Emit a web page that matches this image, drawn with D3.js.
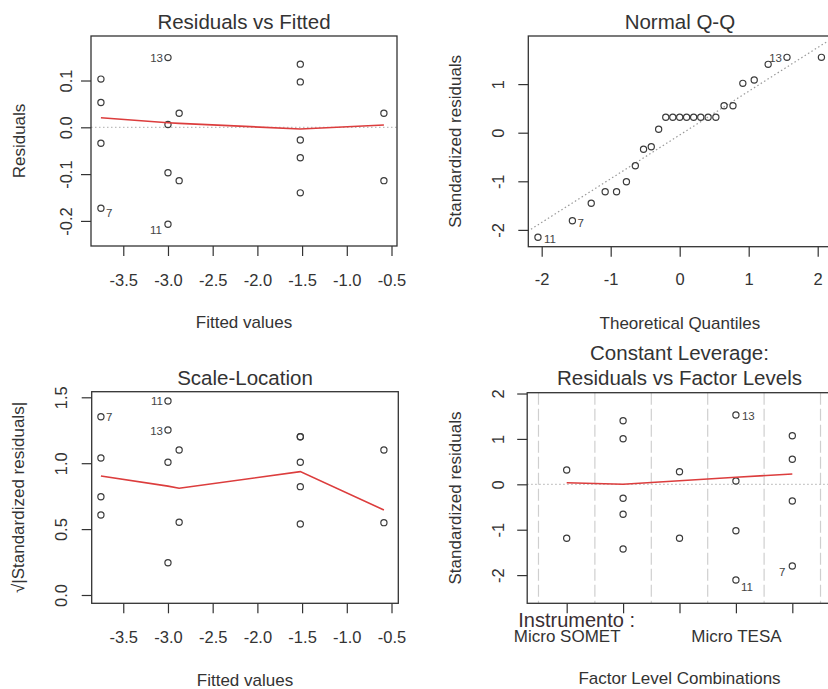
<!DOCTYPE html>
<html><head><meta charset="utf-8">
<script src="https://cdn.jsdelivr.net/npm/d3@7"></script>
<style>
body{margin:0;background:#fff}
svg{display:block;font-family:"Liberation Sans",Arial,sans-serif}
</style>
</head><body>
<svg id="c" width="828" height="689"></svg>
<script>
// ---------- DATA ----------
// Panel 1: Residuals vs Fitted
const fitted = [-3.75,-3.75,-3.75,-3.75,-3.0,-3.0,-3.0,-3.0,-2.875,-2.875,-1.52,-1.52,-1.52,-1.52,-1.52,-0.585,-0.585];
const residuals = [0.103,0.053,-0.034,-0.173,0.149,0.006,-0.097,-0.207,0.030,-0.114,0.135,0.097,-0.027,-0.065,-0.140,0.030,-0.114];
const residIds = ["","","","7","13","","","11","","","","","","","","",""];
const residSmoothX = [-3.75,-3.0,-2.875,-1.52,-0.585];
const residSmoothY = [0.0205,0.0098,0.0085,-0.0036,0.0049];
const residXTicks = [-3.5,-3.0,-2.5,-2.0,-1.5,-1.0,-0.5];
const residYTicks = [-0.2,-0.1,0.0,0.1];

// Panel 2: Normal Q-Q
const theoQ = [-2.054,-1.555,-1.282,-1.080,-0.915,-0.772,-0.643,-0.524,-0.412,-0.305,-0.202,-0.100,0,0.100,0.202,0.305,0.412,0.524,0.643,0.772,0.915,1.080,1.282,1.555,2.054];
const stdRes = [-2.152,-1.811,-1.453,-1.214,-1.214,-1.008,-0.679,-0.342,-0.288,0.070,0.317,0.317,0.317,0.317,0.317,0.317,0.317,0.317,0.556,0.556,1.016,1.084,1.407,1.551,1.551];
const qqIds = ["11","7","","","","","","","","","","","","","","","","","","","","","","13",""];
const qqLineX = [-2.4, 2.4];
const qqLineY = [-2.207, 2.113];
const qqXTicks = [-2,-1,0,1,2];
const qqYTicks = [-2,-1,0,1];

// Panel 3: Scale-Location
const slFitted = [-3.75,-3.75,-3.75,-3.75,-3.0,-3.0,-3.0,-3.0,-2.875,-2.875,-1.52,-1.52,-1.52,-1.52,-1.52,-0.585,-0.585];
const slValues = [1.353,1.039,0.746,0.607,1.472,1.252,1.007,0.245,1.100,0.552,1.201,1.201,1.007,0.822,0.539,1.100,0.549];
const slIds = ["7","","","","11","13","","","","","","","","","","",""];
const slSmoothX = [-3.75,-3.0,-2.875,-1.52,-0.585];
const slSmoothY = [0.903,0.826,0.810,0.936,0.645];
const slYTicks = [0.0,0.5,1.0,1.5];

// Panel 4: Constant Leverage
const levelPos = [0,0,1,1,1,1,1,2,2,3,3,3,3,4,4,4,4];
const levStdRes = [0.315,-1.189,1.40,1.004,-0.308,-0.661,-1.425,0.278,-1.189,1.526,0.073,-1.022,-2.108,1.070,0.551,-0.368,-1.80];
const levIds = ["","","","","","","","","","13","","","11","","","","7"];
const levSmoothX = [0,1,2,3,4];
const levSmoothY = [0.035,0.0,0.079,0.154,0.227];
const levelTicks = [0,1,2,3,4];
const levelLabels = ["Micro SOMET","","","Micro TESA",""];
const levelBounds = [-0.5,0.5,1.5,2.5,3.5,4.5];
const levYTicks = [-2,-1,0,1,2];

// ---------- DRAWING ----------
const svg = d3.select("#c");
const INK = "#333";
const PT = "#3c3c3c";
const RED = "#dc3d3d";
const GRAY = "#bdbdbd";
const fmt1 = d3.format(".1f");
const fmtMinus = v => fmt1(v).replace("\u2212","-");
const fmtInt = v => String(v);

function panel(o){
  const g = svg.append("g");
  const x = d3.scaleLinear().domain(o.xdom).range([o.box.x0,o.box.x1]);
  const y = d3.scaleLinear().domain(o.ydom).range([o.box.y1,o.box.y0]);
  const cid = "clip"+o.id;
  svg.append("clipPath").attr("id",cid).append("rect")
    .attr("x",o.box.x0).attr("y",o.box.y0)
    .attr("width",o.box.x1-o.box.x0).attr("height",o.box.y1-o.box.y0);
  const inner = g.append("g").attr("clip-path",`url(#${cid})`);

  // x axis
  const gx = g.append("g").attr("transform",`translate(0,${o.box.y1})`)
    .call(d3.axisBottom(x).tickValues(o.xticks).tickSize(10).tickSizeOuter(0).tickFormat(o.xfmt));
  gx.select(".domain").remove();
  gx.selectAll(".tick line").attr("stroke",INK).attr("stroke-width",1.2);
  gx.selectAll(".tick text").attr("y",o.xTickBase-o.box.y1).attr("dy",0)
    .attr("font-size",o.xTickSize||16.5).attr("fill",INK)
    .attr("font-family","Liberation Sans, Arial, sans-serif");

  // y axis
  const gy = g.append("g").attr("transform",`translate(${o.box.x0},0)`)
    .call(d3.axisLeft(y).tickValues(o.yticks).tickSize(10).tickSizeOuter(0).tickFormat(o.yfmt));
  gy.select(".domain").remove();
  gy.selectAll(".tick line").attr("stroke",INK).attr("stroke-width",1.2);
  gy.selectAll(".tick text").attr("x",0).attr("y",0).attr("dy",0)
    .attr("text-anchor","middle")
    .attr("transform",`translate(${o.yTickBase-o.box.x0},0) rotate(-90)`)
    .attr("font-size",16.5).attr("fill",INK)
    .attr("font-family","Liberation Sans, Arial, sans-serif");

  // box
  g.append("rect").attr("x",o.box.x0).attr("y",o.box.y0)
    .attr("width",o.box.x1-o.box.x0).attr("height",o.box.y1-o.box.y0)
    .attr("fill","none").attr("stroke",INK).attr("stroke-width",1.3);

  // titles
  const cx = (o.box.x0+o.box.x1)/2;
  o.title.forEach((t,i)=>{
    g.append("text").attr("x",cx).attr("y",o.titleBase[i]).attr("text-anchor","middle")
      .attr("font-size",20.5).attr("fill",INK).text(t);
  });
  g.append("text").attr("x",cx).attr("y",o.xLabBase).attr("text-anchor","middle")
    .attr("font-size",17).attr("fill",INK).text(o.xlab);
  g.append("text").attr("transform",`translate(${o.yLabBase},${(o.box.y0+o.box.y1)/2}) rotate(-90)`)
    .attr("text-anchor","middle").attr("font-size",17).attr("fill",INK).text(o.ylab);
  return {g,inner,x,y};
}

function points(p, xs, ys){
  p.inner.selectAll("circle.pt").data(xs).join("circle").attr("class","pt")
    .attr("cx",(d)=>p.x(d)).attr("cy",(d,i)=>p.y(ys[i])).attr("r",3.1)
    .attr("fill","none").attr("stroke",PT).attr("stroke-width",1.2);
}
function idLabels(p, xs, ys, ids, place){
  ids.forEach((t,i)=>{
    if(!t) return;
    const pl = place[t];
    p.g.append("text").attr("x",p.x(xs[i])+pl[0]).attr("y",p.y(ys[i])+pl[1])
      .attr("text-anchor",pl[0]<0?"end":"start").attr("font-size",11.5).attr("fill","#444").text(t);
  });
}
function smooth(p, xs, ys){
  const line = d3.line().x(d=>p.x(d)).y((d,i)=>p.y(ys[i]));
  p.inner.append("path").attr("d",line(xs)).attr("fill","none").attr("stroke",RED).attr("stroke-width",1.6);
}
function hzero(p, dom){
  p.inner.append("line").attr("x1",p.x(dom[0])).attr("x2",p.x(dom[1]))
    .attr("y1",p.y(0)).attr("y2",p.y(0)).attr("stroke",GRAY).attr("stroke-width",1.2)
    .attr("stroke-dasharray","1.5,2.5");
}

// Panel 1
const p1 = panel({id:1, box:{x0:91,x1:397,y0:36,y1:246}, xdom:[-3.861,-0.4385], ydom:[-0.2536,0.1951],
  xticks:residXTicks, xfmt:fmtMinus, yticks:residYTicks, yfmt:fmtMinus,
  xTickBase:285.5, yTickBase:71.5, title:["Residuals vs Fitted"], titleBase:[29],
  xlab:"Fitted values", xLabBase:328, ylab:"Residuals", yLabBase:24.5});
hzero(p1,[-3.861,-0.4385]);
points(p1, fitted, residuals);
smooth(p1, residSmoothX, residSmoothY);
idLabels(p1, fitted, residuals, residIds, {"7":[5,9],"13":[-5,4.5],"11":[-6,9.5]});

// Panel 2
const p2 = panel({id:2, box:{x0:528.3,x1:831.5,y0:36,y1:246.7}, xdom:[-2.194,2.2], ydom:[-2.346,1.99],
  xticks:qqXTicks, xfmt:fmtInt, yticks:qqYTicks, yfmt:fmtInt,
  xTickBase:285, yTickBase:503.5, title:["Normal Q-Q"], titleBase:[28.5],
  xlab:"Theoretical Quantiles", xLabBase:328.5, ylab:"Standardized residuals", yLabBase:461});
p2.inner.append("line").attr("x1",p2.x(qqLineX[0])).attr("x2",p2.x(qqLineX[1]))
  .attr("y1",p2.y(qqLineY[0])).attr("y2",p2.y(qqLineY[1]))
  .attr("stroke","#999").attr("stroke-width",1.2).attr("stroke-dasharray","1.5,2.5");
points(p2, theoQ, stdRes);
idLabels(p2, theoQ, stdRes, qqIds, {"11":[6,6],"7":[5,6.5],"13":[-5,5]});

// Panel 3
const p3 = panel({id:3, box:{x0:91.7,x1:398.3,y0:391.7,y1:603.3}, xdom:[-3.853,-0.424], ydom:[-0.063,1.5425],
  xticks:residXTicks, xfmt:fmtMinus, yticks:slYTicks, yfmt:fmtMinus,
  xTickBase:643, yTickBase:66.5, title:["Scale-Location"], titleBase:[385],
  xlab:"Fitted values", xLabBase:686, ylab:"\u221A|Standardized residuals|", yLabBase:24});
points(p3, slFitted, slValues);
smooth(p3, slSmoothX, slSmoothY);
idLabels(p3, slFitted, slValues, slIds, {"7":[5,4.5],"11":[-5,4.5],"13":[-5,5.5]});

// Panel 4
const p4 = panel({id:4, box:{x0:527.2,x1:831.8,y0:392.7,y1:603.3}, xdom:[-0.7,4.7], ydom:[-2.621,2.018],
  xticks:levelTicks, xfmt:(d)=>levelLabels[d], yticks:levYTicks, yfmt:fmtInt, xTickSize:17,
  xTickBase:642, yTickBase:503.5, title:["Constant Leverage:","Residuals vs Factor Levels"], titleBase:[360,385],
  xlab:"Factor Level Combinations", xLabBase:684, ylab:"Standardized residuals", yLabBase:461});
p4.inner.selectAll("line.vb").data(levelBounds).join("line").attr("class","vb")
  .attr("x1",d=>p4.x(d)).attr("x2",d=>p4.x(d)).attr("y1",392.7).attr("y2",603.3)
  .attr("stroke","#cfcfcf").attr("stroke-width",1.2).attr("stroke-dasharray","12,4");
hzero(p4,[-0.7,4.7]);
points(p4, levelPos, levStdRes);
smooth(p4, levSmoothX, levSmoothY);
idLabels(p4, levelPos, levStdRes, levIds, {"13":[6,4.5],"11":[5,11],"7":[-7,10]});
p4.g.append("text").attr("x",518.3).attr("y",626.7).attr("font-size",20)
  .attr("fill","#3b2e33").text("Instrumento :");
</script>
</body></html>
